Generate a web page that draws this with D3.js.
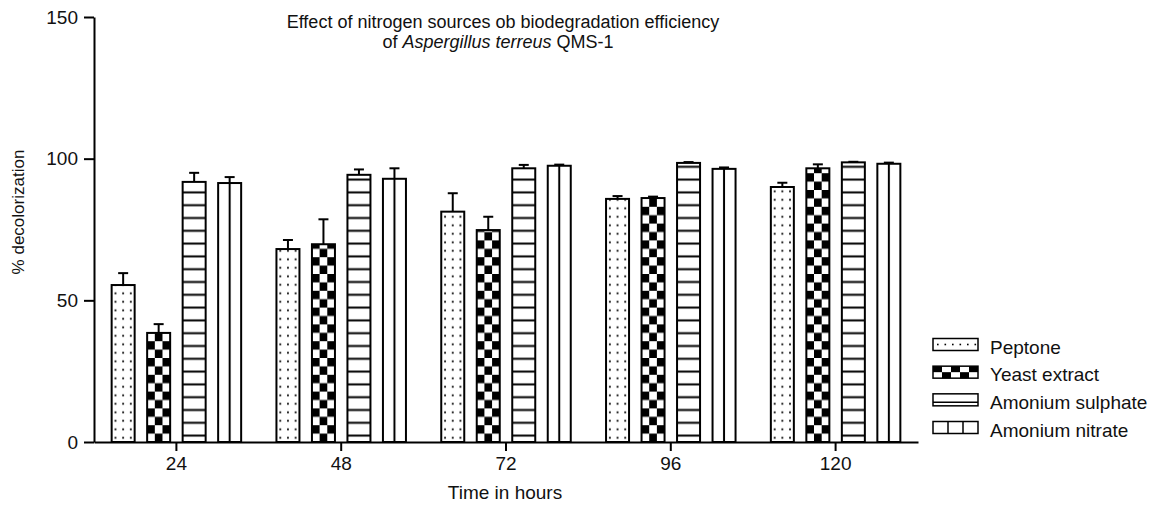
<!DOCTYPE html>
<html>
<head>
<meta charset="utf-8">
<script src="https://cdn.jsdelivr.net/npm/d3@7"></script>
<style>
  body { margin: 0; background: #fff; }
  text { font-family: "Liberation Sans", Arial, sans-serif; fill: #111; }
</style>
</head>
<body>
<div id="chart"></div>
<script>
// data
var times = ["24", "48", "72", "96", "120"];
var series = ["Peptone", "Yeast extract", "Amonium sulphate", "Amonium nitrate"];
var peptone = [55.4, 68.1, 81.3, 85.8, 90.0];
var peptoneErr = [4.2, 3.2, 6.5, 1.0, 1.5];
var yeast = [38.5, 69.8, 74.8, 86.1, 96.6];
var yeastErr = [3.1, 8.8, 4.7, 0.5, 1.4];
var sulphate = [91.8, 94.3, 96.6, 98.5, 98.7];
var sulphateErr = [3.2, 1.9, 1.2, 0.3, 0.2];
var nitrate = [91.4, 92.9, 97.5, 96.4, 98.2];
var nitrateErr = [2.1, 3.7, 0.4, 0.5, 0.4];
var yTicks = [0, 50, 100, 150];

var values = [peptone, yeast, sulphate, nitrate],
  errors = [peptoneErr, yeastErr, sulphateErr, nitrateErr],
  fills = ["url(#pDots)", "url(#pCheck)", "url(#pHoriz)", "url(#pVert)"];

// page and plot area
var width = 1165,
  height = 505;
var plot = {
  left: 94,
  right: 918,
  top: 17,
  bottom: 442
};

var svg = d3.select("#chart")
  .append("svg")
  .attr("width", width)
  .attr("height", height);

//------------------------------------------------------------------------//
// scales
var x0 = d3.scaleBand()
  .domain(times)
  .range([plot.left, plot.right]);
var x1 = d3.scaleBand()
  .domain(series)
  .range([x0.bandwidth() / 2 - 71, x0.bandwidth() / 2 + 71])
  .paddingInner(0.352)
  .paddingOuter(0.176);
var y = d3.scaleLinear()
  .domain([0, 150])
  .range([plot.bottom, plot.top]);
var bw = x1.bandwidth();

//------------------------------------------------------------------------//
// hatch patterns (userSpaceOnUse -> each bar gets its own origin)
var defs = svg.append("defs");

function makePattern(id, w, h) {
  var p = defs.append("pattern")
    .attr("id", id)
    .attr("patternUnits", "userSpaceOnUse")
    .attr("width", w)
    .attr("height", h);
  p.append("rect").attr("width", w).attr("height", h).attr("fill", "#fff");
  return p;
}

var cell = bw / 3;
makePattern("pDots", cell, 8.5)
  .append("rect")
  .attr("x", cell / 2 - 0.9).attr("y", 3.4)
  .attr("width", 1.8).attr("height", 1.8)
  .attr("fill", "#000");

var pc = makePattern("pCheck", cell * 2, 16.8);
pc.append("rect").attr("x", 0).attr("y", 0).attr("width", cell).attr("height", 8.4).attr("fill", "#000");
pc.append("rect").attr("x", cell).attr("y", 8.4).attr("width", cell).attr("height", 8.4).attr("fill", "#000");

makePattern("pHoriz", bw, 12.8)
  .append("line")
  .attr("x1", 0).attr("x2", bw)
  .attr("y1", 6.4).attr("y2", 6.4)
  .attr("stroke", "#000").attr("stroke-width", 2);

makePattern("pVert", bw, 20)
  .append("line")
  .attr("x1", bw / 2).attr("x2", bw / 2)
  .attr("y1", 0).attr("y2", 20)
  .attr("stroke", "#000").attr("stroke-width", 2);

//------------------------------------------------------------------------//
// bars + error bars
var rows = [];
times.forEach(function(t, i) {
  series.forEach(function(s, j) {
    rows.push({
      time: t,
      series: s,
      k: j,
      value: values[j][i],
      err: errors[j][i]
    });
  });
});

var bar = svg.append("g")
  .selectAll("g")
  .data(rows)
  .enter()
  .append("g")
  .attr("transform", function(d) {
    return "translate(" + (x0(d.time) + x1(d.series)) + "," + y(0) + ")";
  });

// error bar stem + cap
bar.append("line")
  .attr("x1", bw / 2).attr("x2", bw / 2)
  .attr("y1", function(d) { return y(d.value) - y(0); })
  .attr("y2", function(d) { return y(d.value + d.err) - y(0); })
  .attr("stroke", "#000").attr("stroke-width", 2);
bar.append("line")
  .attr("x1", bw / 2 - 5).attr("x2", bw / 2 + 5)
  .attr("y1", function(d) { return y(d.value + d.err) - y(0); })
  .attr("y2", function(d) { return y(d.value + d.err) - y(0); })
  .attr("stroke", "#000").attr("stroke-width", 2);

bar.append("rect")
  .attr("x", 0)
  .attr("y", function(d) { return y(d.value) - y(0); })
  .attr("width", bw)
  .attr("height", function(d) { return y(0) - y(d.value); })
  .attr("fill", function(d) { return fills[d.k]; })
  .attr("stroke", "#000")
  .attr("stroke-width", 2);

//------------------------------------------------------------------------//
// axes
var yAxis = svg.append("g")
  .attr("transform", "translate(" + plot.left + ",0)")
  .call(d3.axisLeft(y).tickValues(yTicks).tickSize(10).tickSizeOuter(0).tickPadding(6));
var xAxis = svg.append("g")
  .attr("transform", "translate(0," + plot.bottom + ")")
  .call(d3.axisBottom(x0).tickSize(9).tickSizeOuter(0).tickPadding(6));

[xAxis, yAxis].forEach(function(a) {
  a.selectAll("path, line").attr("stroke", "#000").attr("stroke-width", 2);
  a.selectAll("text")
    .style("font-family", "'Liberation Sans', Arial, sans-serif")
    .style("font-size", "19px")
    .attr("fill", "#111");
});

// axis labels
svg.append("text")
  .attr("text-anchor", "middle")
  .attr("x", 505)
  .attr("y", 499)
  .style("font-size", "19px")
  .text("Time in hours");

svg.append("text")
  .attr("text-anchor", "middle")
  .attr("transform", "translate(24,212)rotate(-90)")
  .style("font-size", "17px")
  .text("% decolorization");

// title
svg.append("text")
  .attr("text-anchor", "middle")
  .attr("x", 503)
  .attr("y", 28)
  .style("font-size", "18px")
  .text("Effect of nitrogen sources ob biodegradation efficiency");
var t2 = svg.append("text")
  .attr("text-anchor", "middle")
  .attr("x", 498)
  .attr("y", 48)
  .style("font-size", "18px");
t2.append("tspan").text("of ");
t2.append("tspan").style("font-style", "italic").text("Aspergillus terreus");
t2.append("tspan").text(" QMS-1");

//------------------------------------------------------------------------//
// legend
var ly = d3.scalePoint().domain(series).range([347, 430]);
var lw = 45,
  lh = 12,
  lx = 933;

var leg = svg.append("g")
  .selectAll("g")
  .data(series)
  .enter()
  .append("g")
  .attr("transform", function(d) {
    return "translate(" + lx + "," + (ly(d) - 2.5 - lh / 2) + ")";
  });

leg.append("rect")
  .attr("width", lw).attr("height", lh)
  .attr("fill", "#fff");

// swatch detail
leg.each(function(d, i) {
  var g = d3.select(this);
  if (i === 0) {
    d3.range(4, lw - 2, 7.5).forEach(function(px) {
      g.append("rect").attr("x", px).attr("y", lh / 2 - 0.8)
        .attr("width", 1.6).attr("height", 1.6).attr("fill", "#000");
    });
  } else if (i === 1) {
    d3.range(0, 5).forEach(function(c) {
      g.append("rect").attr("x", c * 9).attr("y", c % 2 ? lh / 2 : 0)
        .attr("width", 9).attr("height", lh / 2).attr("fill", "#000");
    });
  } else if (i === 2) {
    g.append("line").attr("x1", 0).attr("x2", lw)
      .attr("y1", lh * 0.7).attr("y2", lh * 0.7)
      .attr("stroke", "#000").attr("stroke-width", 1.5);
  } else {
    [15, 30].forEach(function(px) {
      g.append("line").attr("x1", px).attr("x2", px)
        .attr("y1", 0).attr("y2", lh)
        .attr("stroke", "#000").attr("stroke-width", 1.5);
    });
  }
});

leg.append("rect")
  .attr("width", lw).attr("height", lh)
  .attr("fill", "none")
  .attr("stroke", "#000")
  .attr("stroke-width", 1.5);

svg.append("g")
  .selectAll("text")
  .data(series)
  .enter()
  .append("text")
  .attr("x", 990)
  .attr("y", function(d) { return ly(d) + 6.5; })
  .style("font-size", "19px")
  .text(function(d) { return d; });
</script>
</body>
</html>
